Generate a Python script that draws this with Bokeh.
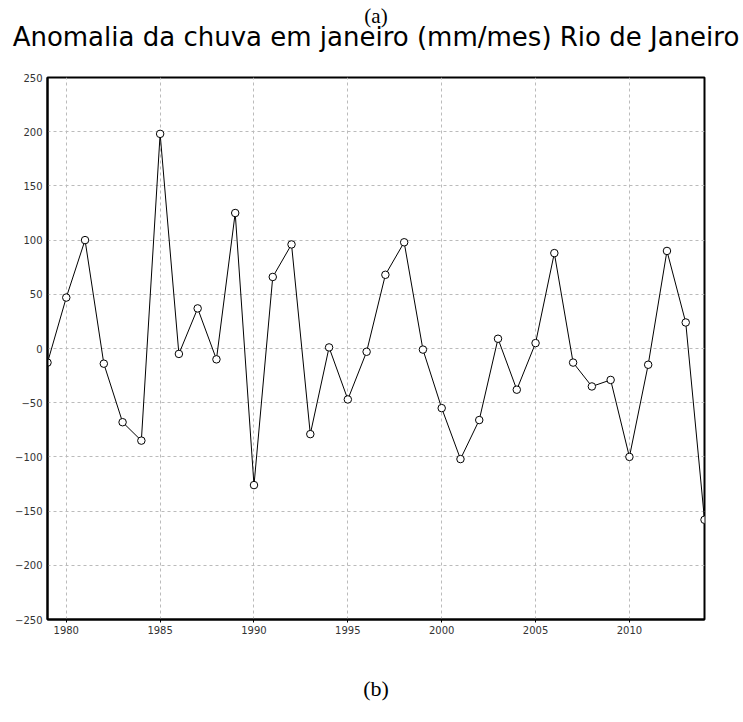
from bokeh.plotting import figure
from bokeh.models import Range1d, FixedTicker, LinearAxis
from bokeh.embed import file_html
from bokeh.resources import INLINE

years = list(range(1979, 2015))
anomaly = [-13, 47, 100, -14, -68, -85, 198, -5, 37, -10, 125,
           -126, 66, 96, -79, 1, -47, -3, 68, 98, -1,
           -55, -102, -66, 9, -38, 5, 88, -13, -35, -29,
           -100, -15, 90, 24, -158]
x_ticks = [1980, 1985, 1990, 1995, 2000, 2005, 2010]
y_ticks = [-250, -200, -150, -100, -50, 0, 50, 100, 150, 200, 250]

title_main = "Anomalia da chuva em janeiro (mm/mes) Rio de Janeiro"

p = figure(width=743, height=722, output_backend="svg", toolbar_location=None,
           x_range=Range1d(1979, 2014), y_range=Range1d(-250, 250),
           min_border_left=47, min_border_right=39, min_border_top=77,
           min_border_bottom=103)


def header_axis(text, font, size, standoff):
    return LinearAxis(ticker=FixedTicker(ticks=[]), axis_label=text,
                      axis_line_color=None, major_tick_line_color=None,
                      minor_tick_line_color=None, major_tick_out=0,
                      major_tick_in=0, major_label_standoff=0,
                      axis_label_standoff=standoff,
                      axis_label_text_font=font,
                      axis_label_text_font_size=size,
                      axis_label_text_font_style="normal",
                      axis_label_text_color="black")


# main title and panel tag as labels of empty axes above the frame
p.add_layout(header_axis(title_main, "DejaVu Sans", "26px", 26), "above")
p.add_layout(header_axis("(a)", "Liberation Serif", "21px", -9), "above")

p.line(years, anomaly, line_color="black", line_width=1)
p.scatter(years, anomaly, size=7.5, fill_color="white", line_color="black",
          line_width=1)

xax = p.below[0]
yax = p.left[0]
xax.ticker = FixedTicker(ticks=x_ticks)
yax.ticker = FixedTicker(ticks=y_ticks)
for ax in (xax, yax):
    ax.axis_line_color = "black"
    ax.axis_line_width = 2
    ax.major_tick_in = 0
    ax.minor_tick_line_color = None
    ax.major_label_text_font = "DejaVu Sans"
    ax.major_label_text_font_size = "10px"
    ax.major_label_text_color = "#333333"
xax.major_tick_out = 3
yax.major_tick_out = 0
yax.major_label_standoff = 5
xax.major_label_standoff = 3

xax.axis_label = "(b)"
xax.axis_label_text_font = "Liberation Serif"
xax.axis_label_text_font_size = "22px"
xax.axis_label_text_font_style = "normal"
xax.axis_label_text_color = "black"
xax.axis_label_standoff = 39

p.xgrid.ticker = FixedTicker(ticks=x_ticks)
p.ygrid.ticker = FixedTicker(ticks=y_ticks)
p.grid.grid_line_color = "#bbbbbb"
p.grid.grid_line_dash = "3 3"
p.grid.grid_line_width = 1

p.outline_line_color = "black"
p.outline_line_width = 2
p.outline_line_alpha = 1

open("out.html", "w").write(file_html(p, INLINE))
